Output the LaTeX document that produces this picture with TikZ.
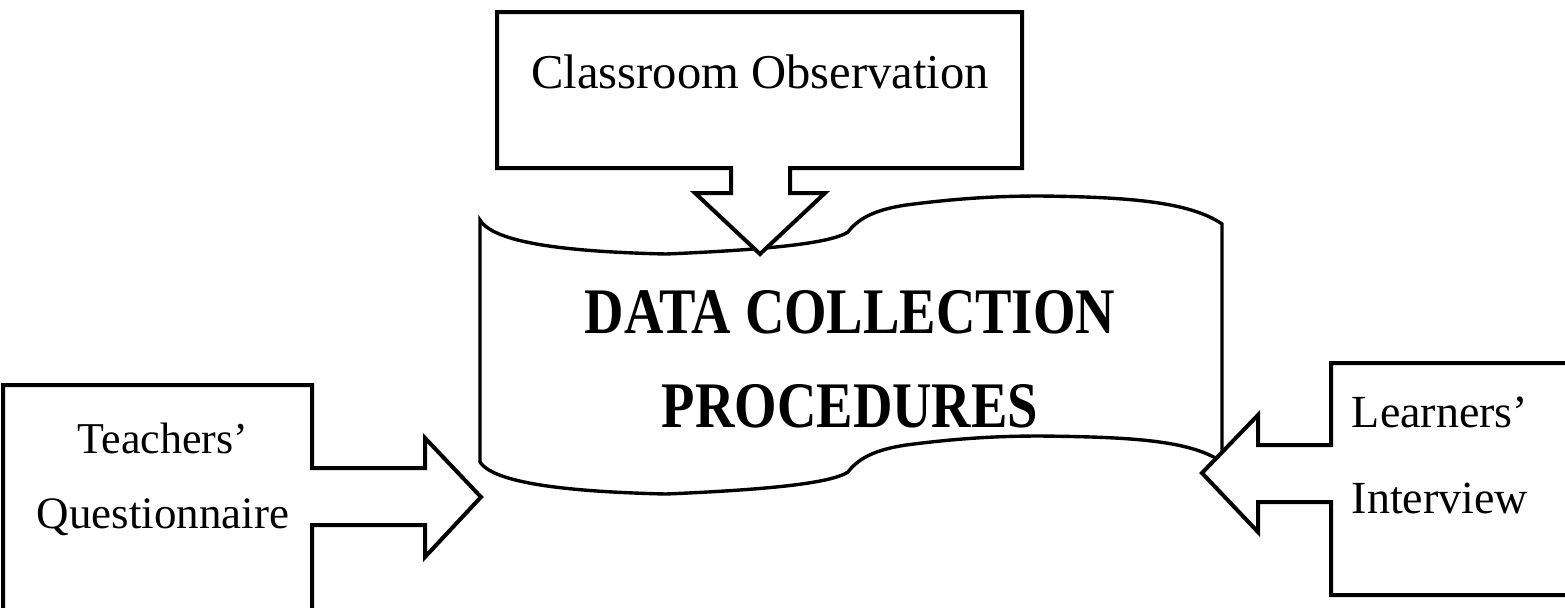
\documentclass[tikz,border=0pt]{standalone}
\usepackage{fontspec}
\usepackage{graphicx}
\setmainfont{Liberation Serif}
\begin{document}
\begin{tikzpicture}[x=0.5pt,y=-0.5pt,
  callout/.style={draw=black,line width=2pt,fill=white,line join=miter},
  banner/.style={draw=black,line width=1.7pt,fill=white},
  lbl/.style={font=\fontsize{23pt}{27pt}\selectfont,anchor=base,inner sep=0pt},
  ttl/.style={font=\bfseries\fontsize{32.5pt}{36pt}\selectfont,anchor=base,inner sep=0pt}]
\clip (0,0) rectangle (1565,607);
\fill[white] (0,0) rectangle (1565,607);
% banner (wave)
\draw[banner] (480,220) .. controls (495,245) and (580,252) .. (666,254)
  .. controls (760,250) and (830,244) .. (848,232)
  .. controls (860,216) and (880,209) .. (906,205)
  .. controls (960,198) and (1000,196) .. (1040,196)
  .. controls (1130,197) and (1190,202) .. (1222,224)
  -- (1222,462)
  .. controls (1190,440) and (1130,437) .. (1040,436)
  .. controls (1000,436) and (960,438) .. (906,445)
  .. controls (880,449) and (860,456) .. (848,472)
  .. controls (830,484) and (760,490) .. (666,494)
  .. controls (580,492) and (495,485) .. (480,462) -- cycle;
\node[ttl] (t1) at (850,333) {\scalebox{0.84}[1]{DATA COLLECTION}};
\node[ttl] (t2) at (850,427) {\scalebox{0.84}[1]{PROCEDURES}};
% top callout
\draw[callout] (497,12) -- (1022,12) -- (1022,168) -- (790,168) -- (790,193)
  -- (825,193) -- (760,254) -- (695,193) -- (731,193) -- (731,168) -- (497,168) -- cycle;
\node[lbl,font=\fontsize{24.3pt}{28pt}\selectfont] (obs) at (760,88) {Classroom Observation};
% left callout
\draw[callout] (3,700) -- (3,385) -- (312,385) -- (312,468) -- (425,468) -- (425,438)
  -- (481,497) -- (425,557) -- (425,525) -- (312,525) -- (312,700);
\node[lbl,font=\fontsize{22pt}{26pt}\selectfont] (tq1) at (163,453) {Teachers’};
\node[lbl,font=\fontsize{22.5pt}{26pt}\selectfont] (tq2) at (163,528) {Questionnaire};
% right callout
\draw[callout] (1600,363) -- (1331,363) -- (1331,445) -- (1258,445) -- (1258,415)
  -- (1202,473) -- (1258,532) -- (1258,502) -- (1331,502) -- (1331,595) -- (1600,595);
\node[lbl] (li1) at (1440,427) {Learners’};
\node[lbl] (li2) at (1440,513) {Interview};
\end{tikzpicture}
\end{document}
